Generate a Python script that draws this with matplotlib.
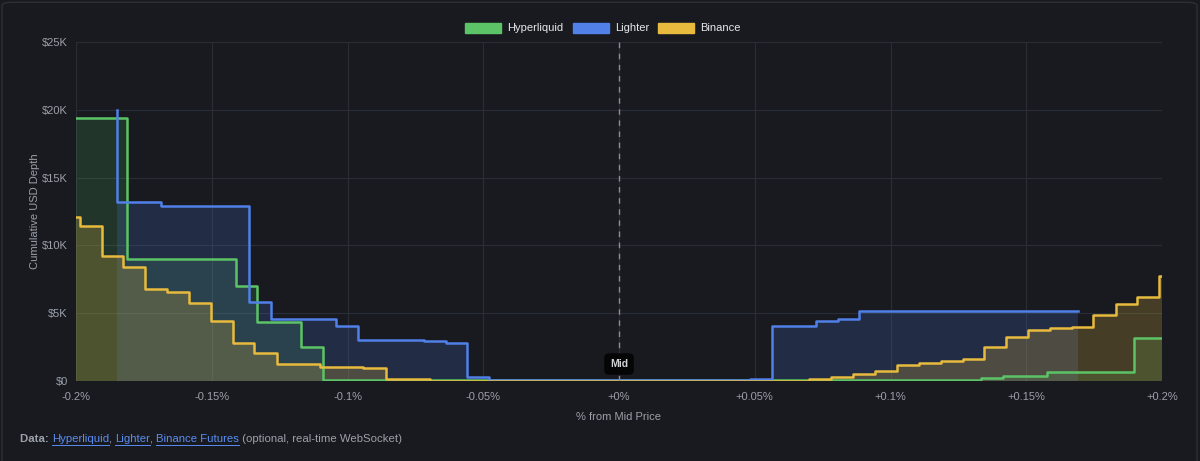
import matplotlib.pyplot as plt
from matplotlib.patches import Patch, FancyBboxPatch

# cumulative depth in USD thousands, x = % from mid price (step breakpoints)
hl_bid_x = [-0.2, -0.1813, -0.1412, -0.1332, -0.1172, -0.1089, 0.0]
hl_bid_y = [19.4, 9.0, 7.0, 4.37, 2.53, 0.05, 0.05]
hl_ask_x = [0.0, 0.1332, 0.1416, 0.1575, 0.1898, 0.2]
hl_ask_y = [0.05, 0.22, 0.37, 0.70, 3.19, 3.19]

lt_bid_x = [-0.1848, -0.1848, -0.1686, -0.1363, -0.1283, -0.1042, -0.0962,
            -0.072, -0.0638, -0.0561, -0.0479, 0.0]
lt_bid_y = [20.0, 13.18, 12.93, 5.8, 4.55, 4.06, 3.02, 2.93, 2.78, 0.27, 0.05, 0.05]
lt_ask_x = [0.0, 0.0483, 0.0565, 0.0726, 0.0805, 0.0885, 0.1692]
lt_ask_y = [0.05, 0.17, 4.08, 4.4, 4.57, 5.15, 5.15]

bn_bid_x = [-0.2, -0.1985, -0.1905, -0.1826, -0.1746, -0.1664, -0.1584, -0.1504,
            -0.1423, -0.1343, -0.1261, -0.1101, -0.0942, -0.0859, -0.0696, 0.0]
bn_bid_y = [12.1, 11.43, 9.24, 8.38, 6.76, 6.54, 5.78, 4.45, 2.78, 2.04, 1.25,
            1.06, 0.93, 0.12, 0.02, 0.02]
bn_ask_x = [0.0, 0.07, 0.078, 0.0863, 0.0943, 0.1023, 0.1105, 0.1185, 0.1266,
            0.1346, 0.1425, 0.1505, 0.1587, 0.1667, 0.1747, 0.1829, 0.1909, 0.1989, 0.2]
bn_ask_y = [0.02, 0.12, 0.27, 0.52, 0.76, 1.16, 1.31, 1.5, 1.6, 2.53, 3.27, 3.76,
            3.89, 4.0, 4.87, 5.65, 6.22, 7.74, 7.74]

exchanges = ['Hyperliquid', 'Lighter', 'Binance']
colors = ['#5cc466', '#5080e8', '#e8bb3e']
fill_alpha = [0.16, 0.18, 0.22]
sides = [
    [(hl_bid_x, hl_bid_y), (hl_ask_x, hl_ask_y)],
    [(lt_bid_x, lt_bid_y), (lt_ask_x, lt_ask_y)],
    [(bn_bid_x, bn_bid_y), (bn_ask_x, bn_ask_y)],
]

x_ticks = [-0.2, -0.15, -0.1, -0.05, 0, 0.05, 0.1, 0.15, 0.2]
x_labels = ['-0.2%', '-0.15%', '-0.1%', '-0.05%', '+0%', '+0.05%', '+0.1%', '+0.15%', '+0.2%']
y_ticks = [0, 5, 10, 15, 20, 25]
y_labels = ['$0', '$5K', '$10K', '$15K', '$20K', '$25K']

bg = '#181a20'
grid_c = '#2a2d34'
text_c = '#9ca0a8'

plt.rcParams['font.family'] = ['Liberation Sans', 'DejaVu Sans']

fig = plt.figure(figsize=(12, 4.61), dpi=100, facecolor=bg)
fig.patches.append(FancyBboxPatch((2 / 1200, -0.05), 1195 / 1200, 1.045,
                                  boxstyle='round,pad=0,rounding_size=0.008',
                                  transform=fig.transFigure, facecolor=bg,
                                  edgecolor='#2c2f36', linewidth=1, zorder=-5))
ax = fig.add_axes([76 / 1200, 1 - 381 / 461, 1086 / 1200, 339 / 461])
ax.set_facecolor('none')

for name, c, a, data in zip(exchanges, colors, fill_alpha, sides):
    for xs, ys in data:
        ax.fill_between(xs, ys, 0, step='post', color=c, alpha=a, linewidth=0)
        ax.step(xs, ys, where='post', color=c, linewidth=1.8)

ax.axvline(0, color='#8a8d94', linewidth=1, linestyle=(0, (4, 4)), zorder=5)
ax.text(0, 1.25, 'Mid', ha='center', va='center', fontsize=7.5, fontweight='bold',
        color='#d0d2d6', zorder=7,
        bbox=dict(boxstyle='round,pad=0.55,rounding_size=0.45', facecolor='#050505',
                  edgecolor='none', zorder=7))

ax.set_xlim(-0.2, 0.2)
ax.set_ylim(0, 25)
ax.set_xticks(x_ticks)
ax.set_xticklabels(x_labels)
ax.set_yticks(y_ticks)
ax.set_yticklabels(y_labels)
ax.tick_params(colors=text_c, labelsize=8, length=0, pad=8)
ax.tick_params(axis='y', pad=6)
ax.grid(True, color=grid_c, linewidth=0.8)
ax.set_axisbelow(True)
for s in ax.spines.values():
    s.set_visible(False)
ax.set_xlabel('% from Mid Price', color=text_c, fontsize=8, labelpad=7)
ax.set_ylabel('Cumulative USD Depth', color=text_c, fontsize=8, labelpad=1)

handles = [Patch(facecolor=c, edgecolor=c, label=n) for n, c in zip(exchanges, colors)]
leg = fig.legend(handles=handles, loc='center', bbox_to_anchor=(603 / 1200, 1 - 28 / 461),
                 ncol=3, frameon=False, fontsize=8, handlelength=3.25,
                 handleheight=1.05, handletextpad=0.55, columnspacing=0.8)
for t in leg.get_texts():
    t.set_color('#e6e8eb')

# footer with links
link_c = '#5b8def'
parts = [('Data: ', '#9ca0a8', 'bold', False), ('Hyperliquid', link_c, 'normal', True),
         (', ', '#9ca0a8', 'normal', False), ('Lighter', link_c, 'normal', True),
         (', ', '#9ca0a8', 'normal', False), ('Binance Futures', link_c, 'normal', True),
         (' (optional, real-time WebSocket)', '#9ca0a8', 'normal', False)]
fig.canvas.draw()
renderer = fig.canvas.get_renderer()
xpos = 20
for txt, col, w, link in parts:
    t = fig.text(xpos / 1200, 1 - 439 / 461, txt, color=col, fontweight=w,
                 fontsize=8.2, va='center', ha='left')
    bb = t.get_window_extent(renderer)
    if link:
        yl = bb.y0 - 0.5
        fig.add_artist(plt.Line2D([bb.x0 / 1200, bb.x1 / 1200], [yl / 461, yl / 461],
                                  transform=fig.transFigure, color=col, linewidth=0.7))
    xpos = bb.x1

fig.savefig('out.png', dpi=100, facecolor=bg)
